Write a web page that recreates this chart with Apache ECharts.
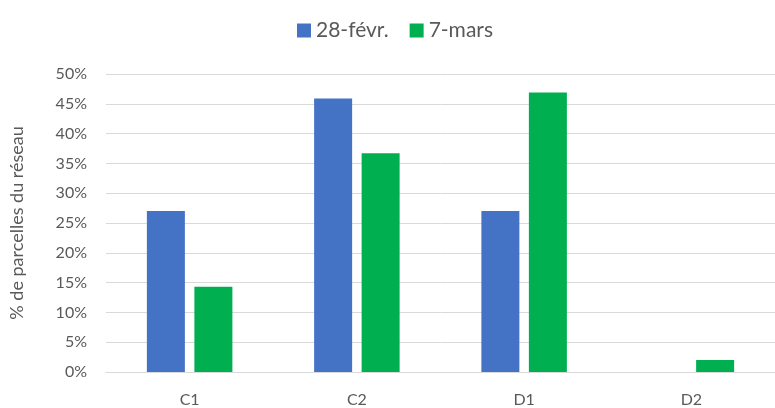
<!DOCTYPE html>
<html><head><meta charset="utf-8">
<script src="https://cdn.jsdelivr.net/npm/echarts@6/dist/echarts.min.js"></script>
<style>html,body{margin:0;padding:0;background:#fff}#c{width:775px;height:408px}</style>
</head><body><div id="c"></div>
<script>
const categories = ['C1', 'C2', 'D1', 'D2'];
const seriesNames = ['28-févr.', '7-mars'];
const fev28 = [0.27, 0.459, 0.27, 0];
const mars7 = [0.143, 0.367, 0.469, 0.02];
const yTicks = [0, 0.05, 0.10, 0.15, 0.20, 0.25, 0.30, 0.35, 0.40, 0.45, 0.50];

const font = 'Lato, "Liberation Sans", sans-serif';
const chart = echarts.init(document.getElementById('c'));
chart.setOption({
  animation: false,
  textStyle: { fontFamily: font },
  legend: {
    top: 15, left: 292,
    itemWidth: 14, itemHeight: 14, itemGap: 21,
    icon: 'rect',
    textStyle: { fontSize: 21, color: '#595959', fontFamily: font },
    data: seriesNames
  },
  grid: { left: 105, width: 672, top: 74, bottom: 34 },
  xAxis: {
    type: 'category', data: categories,
    axisLine: { lineStyle: { color: '#D9D9D9' } },
    axisTick: { show: false },
    axisLabel: { color: '#595959', fontSize: 16, margin: 20, fontFamily: font }
  },
  yAxis: {
    type: 'value', min: yTicks[0], max: yTicks[yTicks.length - 1], interval: 0.05,
    name: '% de parcelles du réseau', nameLocation: 'middle', nameGap: 80, nameRotate: 90,
    nameTextStyle: { color: '#595959', fontSize: 18, fontFamily: font },
    axisLine: { show: false }, axisTick: { show: false },
    splitLine: { lineStyle: { color: '#D9D9D9', width: 1 } },
    axisLabel: { color: '#595959', fontSize: 16, margin: 19, fontFamily: font,
      formatter: v => Math.round(v * 100) + '%' }
  },
  series: [
    { name: seriesNames[0], type: 'bar', data: fev28, barWidth: 38, barGap: '25%',
      itemStyle: { color: '#4472C4' } },
    { name: seriesNames[1], type: 'bar', data: mars7, barWidth: 38, barGap: '25%',
      itemStyle: { color: '#00B050' } }
  ]
});
</script></body></html>
